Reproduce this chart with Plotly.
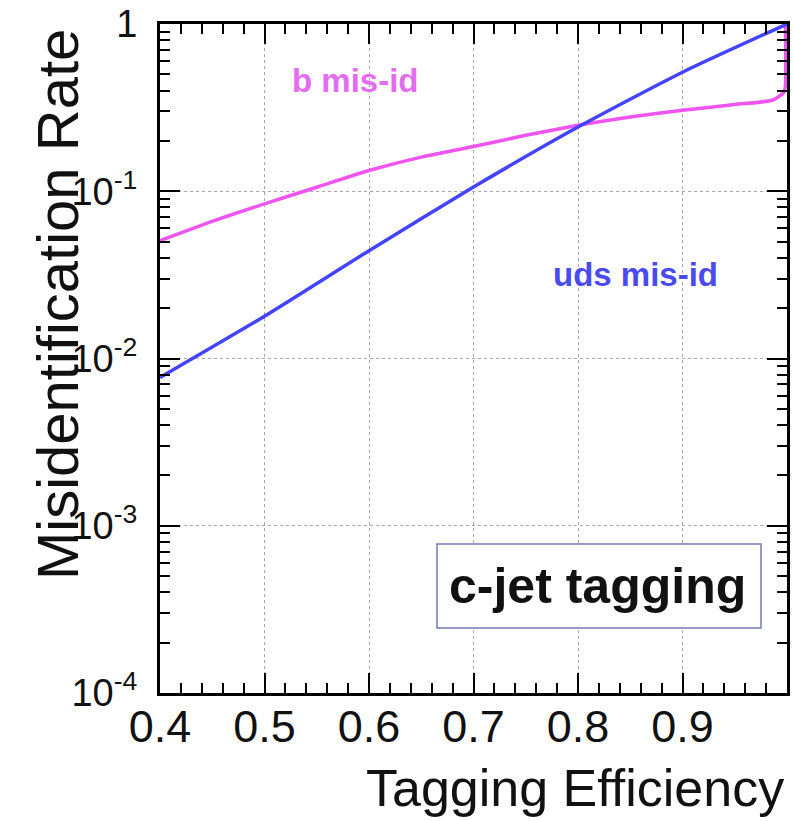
import plotly.graph_objects as go

# ---- data ----
uds_eff = [0.40, 0.50, 0.60, 0.70, 0.80, 0.90, 1.00]
uds_rate = [0.0077, 0.0179, 0.0441, 0.106, 0.242, 0.515, 1.0]

b_eff = [0.40, 0.45, 0.50, 0.55, 0.60, 0.65, 0.70, 0.75, 0.80, 0.85, 0.90, 0.95,
         0.986, 0.994, 0.9975, 0.9985, 0.9985]
b_rate = [0.0506, 0.066, 0.084, 0.1057, 0.133, 0.160, 0.185, 0.216, 0.248, 0.278,
          0.305, 0.33, 0.35, 0.375, 0.395, 0.43, 1.0]

x_ticks = [0.4, 0.5, 0.6, 0.7, 0.8, 0.9, 1.0]
x_ticktext = ["0.4", "0.5", "0.6", "0.7", "0.8", "0.9", "1"]
y_ticks = [1e-4, 1e-3, 1e-2, 1e-1, 1]
y_ticktext = ["10<sup>-4</sup>", "10<sup>-3</sup>", "10<sup>-2</sup>", "10<sup>-1</sup>", "1"]

FONT = "Liberation Sans, Arial, Helvetica, sans-serif"
MAG = "#EE55EE"
BLUE = "#4444FF"

fig = go.Figure()
fig.add_trace(go.Scatter(x=b_eff, y=b_rate, mode="lines",
                         line=dict(color=MAG, width=3.5, shape="spline", smoothing=0.6),
                         name="b mis-id"))
fig.add_trace(go.Scatter(x=uds_eff, y=uds_rate, mode="lines",
                         line=dict(color=BLUE, width=3.5, shape="spline", smoothing=0.6),
                         name="uds mis-id"))

axis_common = dict(
    showline=True, linewidth=3, linecolor="black", mirror="allticks",
    ticks="inside", ticklen=20, tickwidth=2, tickcolor="black",
    showgrid=True, gridcolor="#A8A8A8", gridwidth=1, griddash="dot",
    zeroline=False, automargin=False,
)

fig.update_layout(
    width=793, height=821,
    margin=dict(l=160, r=6, t=24, b=128),
    paper_bgcolor="white", plot_bgcolor="white",
    showlegend=False,
    font=dict(family=FONT, color="black"),
    xaxis=dict(range=[0.4, 1.0], tickvals=x_ticks, ticktext=x_ticktext,
               tickfont=dict(size=45, family=FONT, color="#111"),
               ticklabelstandoff=-8,
               minor=dict(ticks="inside", ticklen=10, tickwidth=2, tickcolor="black",
                          dtick=0.02, showgrid=False),
               **axis_common),
    yaxis=dict(type="log", range=[-4, 0], tickvals=y_ticks, ticktext=y_ticktext,
               tickfont=dict(size=38, family=FONT, color="#111"),
               ticklabelstandoff=12,
               minor=dict(ticks="inside", ticklen=10, tickwidth=2, tickcolor="black",
                          dtick="D1", showgrid=False),
               **axis_common),
)

# axis titles
fig.add_annotation(text="Misidentification Rate", xref="paper", yref="paper",
                   x=(57 - 160) / 627, y=(693 - 305) / 669, textangle=-90,
                   showarrow=False, xanchor="center", yanchor="middle",
                   font=dict(size=58, family=FONT, color="#111"))
fig.add_annotation(text="Tagging Efficiency", xref="paper", yref="paper",
                   x=(786 - 160) / 627, y=(693 - 788) / 669, xanchor="right", yanchor="middle",
                   showarrow=False, font=dict(size=52, family=FONT, color="#111"))

# curve labels
fig.add_annotation(text="<b>b mis-id</b>", x=0.587, y=-0.336, xref="x", yref="y",
                   showarrow=False, xanchor="center", yanchor="middle",
                   font=dict(size=33, family=FONT, color="#E46CF0"))
fig.add_annotation(text="<b>uds mis-id</b>", x=0.855, y=-1.495, xref="x", yref="y",
                   showarrow=False, xanchor="center", yanchor="middle",
                   font=dict(size=33, family=FONT, color="#4A4AEE"))

# c-jet tagging box
fig.add_shape(type="rect", xref="paper", yref="paper",
              x0=(437 - 160) / 627, x1=(761 - 160) / 627,
              y0=(693 - 628) / 669, y1=(693 - 544) / 669,
              line=dict(color="#7878B8", width=1.5), fillcolor="white", layer="above")
fig.add_annotation(text="<b>c-jet tagging</b>", xref="paper", yref="paper",
                   x=(597 - 160) / 627, y=(693 - 586) / 669, showarrow=False,
                   xanchor="center", yanchor="middle",
                   font=dict(size=50, family=FONT, color="#111"))

fig.write_html("out.html", config={"displayModeBar": False},
               post_script="document.body.style.margin='0px';document.body.style.overflow='hidden';")
